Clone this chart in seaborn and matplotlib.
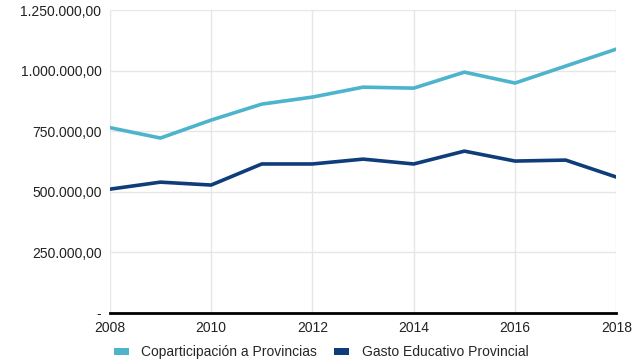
import matplotlib
matplotlib.use('Agg')
import matplotlib.pyplot as plt
import matplotlib.ticker as mticker
from matplotlib.patches import Patch
import pandas as pd
import seaborn as sns

years = [2008, 2009, 2010, 2011, 2012, 2013, 2014, 2015, 2016, 2017, 2018]
coparticipacion = [765000, 722000, 796000, 862000, 891000, 932000, 928000, 994000, 949000, 1019000, 1089000]
gasto_educativo = [511000, 540000, 528000, 615000, 615000, 635000, 615000, 668000, 627000, 631000, 561000]
series_names = ['Coparticipación a Provincias', 'Gasto Educativo Provincial']
colors = ['#4db4cc', '#0e3d7a']

df = pd.DataFrame({'year': years,
                   series_names[0]: coparticipacion,
                   series_names[1]: gasto_educativo})
df = df.melt(id_vars='year', var_name='serie', value_name='valor')

sns.set_style('white')
plt.rcParams['font.family'] = ['Liberation Sans', 'DejaVu Sans']

fig = plt.figure(figsize=(6.42, 3.61), dpi=100)
ax = fig.add_axes([0.171, 0.133, 0.789, 0.839])

sns.lineplot(data=df, x='year', y='valor', hue='serie', palette=colors,
             linewidth=2.6, legend=False, ax=ax)


def fmt(v, pos):
    if v == 0:
        return '-'
    s = f'{v:,.2f}'
    return s.replace(',', 'X').replace('.', ',').replace('X', '.')


ax.set_xlim(2008, 2018)
ax.set_ylim(0, 1250000)
ax.set_xticks(range(2008, 2019, 2))
ax.set_yticks(range(0, 1250001, 250000))
ax.yaxis.set_major_formatter(mticker.FuncFormatter(fmt))
ax.grid(True, color='#e6e6e6', linewidth=1)
ax.set_xlabel('')
ax.set_ylabel('')
for s in ['top', 'right', 'left']:
    ax.spines[s].set_visible(False)
ax.spines['bottom'].set_color('black')
ax.spines['bottom'].set_linewidth(2)
ax.tick_params(axis='both', length=0, labelsize=10, colors='#222222')
ax.tick_params(axis='x', pad=6)
ax.tick_params(axis='y', pad=6)

handles = [Patch(facecolor=c, edgecolor='none') for c in colors]
fig.legend(handles, series_names, loc='lower center', ncol=2, frameon=False,
           fontsize=10, bbox_to_anchor=(0.5, -0.03), handlelength=1.1,
           handleheight=0.45, handletextpad=0.9, columnspacing=1.2)

plt.savefig('out.png', dpi=100)
